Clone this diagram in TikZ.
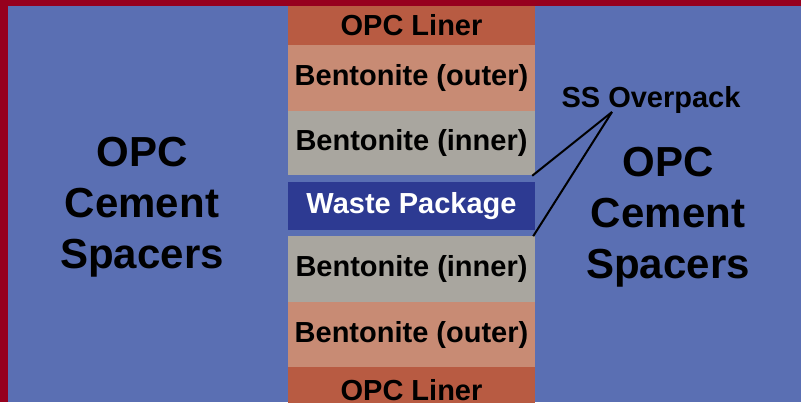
\documentclass[tikz,border=0pt]{standalone}
\usepackage{fontspec}
\setmainfont{Liberation Sans}
\usepackage{tikz}
\definecolor{BGBlue}{HTML}{5A6FB3}
\definecolor{FrameRed}{HTML}{96001E}
\definecolor{LinerRust}{HTML}{B85B42}
\definecolor{BentOuter}{HTML}{C88B74}
\definecolor{BentInner}{HTML}{A9A69F}
\definecolor{WasteBlue}{HTML}{2D3A92}

\begin{document}
\begin{tikzpicture}[x=1pt,y=-1pt,
  layer/.style={rectangle,inner sep=0pt,minimum width=247pt,font=\fontsize{29}{32}\selectfont\bfseries},
  bigtext/.style={align=center,font=\fontsize{42}{51}\selectfont\bfseries}]
\path[use as bounding box] (0,0) rectangle (801,402);
\clip (0,0) rectangle (801,402);
\fill[BGBlue] (0,0) rectangle (801,402);
\fill[FrameRed] (0,0) rectangle (8,402);
\fill[FrameRed] (0,0) rectangle (801,6);
% column of layers
\node[layer,fill=LinerRust,minimum height=39pt] (linertop) at (411.5,25.5) {OPC Liner};
\node[layer,fill=BentOuter,minimum height=66pt] (outertop) at (411.5,78) {Bentonite (outer)};
\node[layer,fill=BentInner,minimum height=64pt] (innertop) at (411.5,143) {Bentonite (inner)};
\node[layer,minimum height=60pt] (ovp) at (411.5,206) {};
\node[layer,fill=WasteBlue,text=white,minimum height=48pt] (waste) at (411.5,206) {Waste Package};
\node[layer,fill=BentInner,minimum height=66pt] (innerbot) at (411.5,269) {Bentonite (inner)};
\node[layer,fill=BentOuter,minimum height=65pt] (outerbot) at (411.5,334.5) {Bentonite (outer)};
\node[layer,fill=LinerRust,minimum height=46pt,text height=21pt] (linerbot) at (411.5,390) {OPC Liner};
% side spacers
\node[bigtext] (spleft) at (142,207) {OPC\\Cement\\Spacers};
\node[bigtext] (spright) at (668,217) {OPC\\Cement\\Spacers};
% overpack label
\node[font=\fontsize{29}{32}\selectfont\bfseries] (ovplabel) at (651,100) {SS Overpack};
\coordinate (ovptip) at (612,112);
\draw[line width=2pt] (ovptip) -- ([xshift=-3pt]ovp.north east);
\draw[line width=2pt] (ovptip) -- ([xshift=-2pt]ovp.south east);
\end{tikzpicture}
\end{document}
